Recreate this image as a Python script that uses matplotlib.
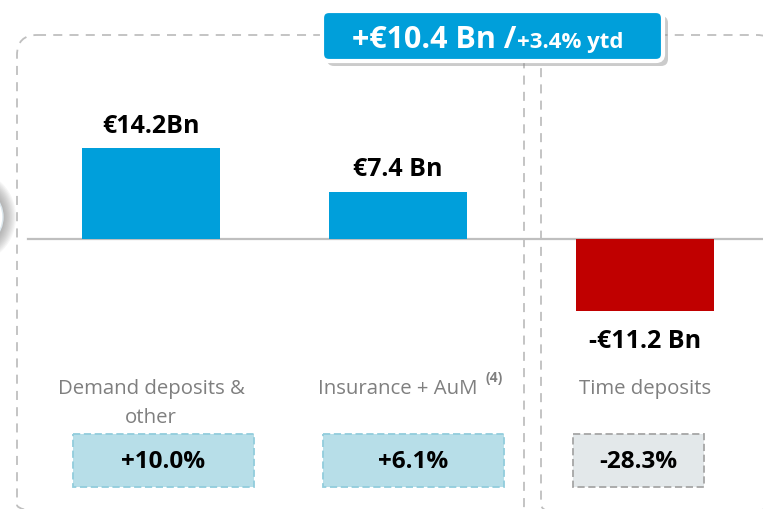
import matplotlib
matplotlib.use("Agg")
import matplotlib.pyplot as plt
from matplotlib.patches import FancyBboxPatch, Ellipse
from matplotlib import transforms

plt.rcParams['font.family'] = ['Open Sans', 'DejaVu Sans']

# %% data
categories = ['Demand deposits &\nother', 'Insurance + AuM', 'Time deposits']
values = [14.2, 7.4, -11.2]
value_labels = ['€14.2Bn', '€7.4 Bn', '-€11.2 Bn']
pct_labels = ['+10.0%', '+6.1%', '-28.3%']
title_main = '+€10.4 Bn /'
title_sub = '+3.4% ytd'

W, H = 763, 510
fig = plt.figure(figsize=(W / 100, H / 100), dpi=100)
ax = fig.add_axes([0, 0, 1, 1])
ax.set_axis_off()
# category i sits at 151 + 247*i px, zero line at 240 px from top, 6.4 px per Bn
ax.set_xlim(-151 / 247, (W - 151) / 247)
ax.set_ylim(-(H - 240) / 6.4, 240 / 6.4)

# pixel transform (origin top-left)
px = transforms.Affine2D().scale(1 / W, -1 / H).translate(0, 1) + fig.transFigure
xpx = transforms.blended_transform_factory(ax.transData, px)

bar_cols = ['#009FDB', '#009FDB', '#C00000']
x = list(range(len(values)))
bars = ax.bar(x, values, width=0.56, color=bar_cols, zorder=3)
ax.axhline(0, xmin=28 / W, xmax=1, color='#BFBFBF', lw=1.6, zorder=2)

for b, v, lab in zip(bars, values, value_labels):
    off = 23 if v > 0 else -30
    ax.annotate(lab, (b.get_x() + b.get_width() / 2, v), xytext=(0, off),
                textcoords='offset pixels', ha='center', va='center',
                fontsize=18, fontweight='bold', color='black', zorder=5)

# category labels
lab_kw = dict(ha='center', va='center', fontsize=14.7, color='#7F7F7F')
ax.text(0, 389, 'Demand deposits &', transform=xpx, **lab_kw)
ax.text(0, 418, 'other', transform=xpx, **lab_kw)
ax.text(1, 389, categories[1], transform=xpx, **lab_kw)
ax.text(2, 389, categories[2], transform=xpx, **lab_kw)
ax.text(485, 378, '(4)', transform=px, ha='left', va='center',
        fontsize=10, fontweight='bold', color='#7F7F7F')

# percentage boxes
pct_boxes = [(73, 181, '#B7DEE8', '#92CDDC'), (323, 181, '#B7DEE8', '#92CDDC'),
             (573, 131, '#E3E8EA', '#A6A6A6')]
for (bx, bw, fc, ec), lab in zip(pct_boxes, pct_labels):
    ax.add_patch(FancyBboxPatch((bx, 435), bw, 53, boxstyle='square,pad=0',
                                fc=fc, ec=ec, lw=1.3, ls=(0, (4, 2)),
                                transform=px, clip_on=False, zorder=2))
    ax.text(bx + bw / 2, 462, lab, transform=px, ha='center', va='center',
            fontsize=17.5, fontweight='bold', color='black', zorder=3)

# dashed frames
for fx, fw in [(17, 507), (541, 236)]:
    ax.add_patch(FancyBboxPatch((fx, 36), fw, 490, boxstyle='round,pad=0,rounding_size=20',
                                fc='none', ec='#BFBFBF', lw=1.3, ls=(0, (5, 4)),
                                transform=px, clip_on=False, zorder=1))

# soft shadow of a shape cut off at the left edge
for i in range(14):
    r = 44 - i * 1.2
    ax.add_patch(Ellipse((-28, 218), 2 * r, 2 * r * 1.05, fc='#808080', ec='none',
                         alpha=0.07, transform=px, clip_on=False, zorder=1))
ax.add_patch(Ellipse((-28, 218), 62, 62, fc='white', ec='#DDE8EE', lw=1,
                     transform=px, clip_on=False, zorder=1))

# title box with shadow
ax.add_patch(FancyBboxPatch((327, 17), 341, 50, boxstyle='round,pad=0,rounding_size=7',
                            fc='#8C8C8C', ec='none', alpha=0.45, transform=px,
                            clip_on=False, zorder=6))
ax.add_patch(FancyBboxPatch((322, 12), 341, 50, boxstyle='round,pad=0,rounding_size=7',
                            fc='#009FDA', ec='white', lw=3, transform=px,
                            clip_on=False, zorder=7))
ax.text(516, 48, title_main, transform=px, ha='right', va='baseline',
        fontsize=22, fontweight='bold', color='white', zorder=8)
ax.text(517, 48, title_sub, transform=px, ha='left', va='baseline',
        fontsize=16, fontweight='bold', color='white', zorder=8)

fig.savefig('out.png', dpi=100)
